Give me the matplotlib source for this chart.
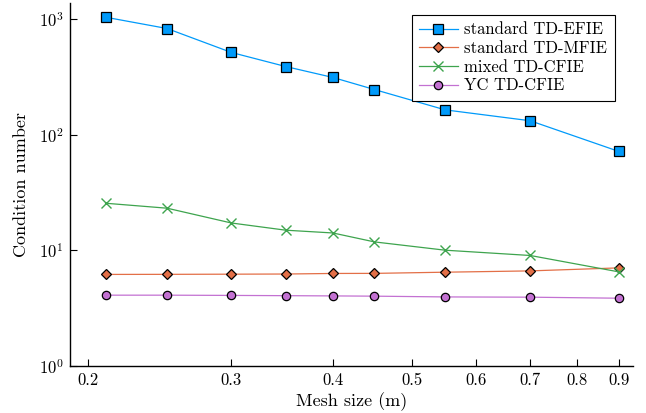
import matplotlib
matplotlib.use("Agg")
import matplotlib.pyplot as plt
from matplotlib.ticker import FixedLocator, NullLocator, FixedFormatter

mesh_size = [0.21, 0.25, 0.3, 0.35, 0.4, 0.45, 0.55, 0.7, 0.9]
efie      = [1040, 830, 515, 389, 313, 246, 164, 132, 71.6]
mfie      = [6.17, 6.18, 6.2, 6.22, 6.29, 6.3, 6.45, 6.62, 7.03]
mixed     = [25.5, 23.1, 17.2, 14.9, 14.1, 11.8, 10.0, 9.0, 6.49]
yc        = [4.08, 4.08, 4.06, 4.04, 4.02, 4.0, 3.94, 3.92, 3.84]

labels  = ["standard TD-EFIE", "standard TD-MFIE", "mixed TD-CFIE", "YC TD-CFIE"]
xticks  = [0.2, 0.3, 0.4, 0.5, 0.6, 0.7, 0.8, 0.9]
yticks  = [1, 10, 100, 1000]

plt.rcParams["font.family"] = "cmr10"
plt.rcParams["mathtext.fontset"] = "cm"
plt.rcParams["axes.formatter.use_mathtext"] = True

fig = plt.figure(figsize=(6.46, 4.13), dpi=100)
ax = fig.add_axes([0.1088, 0.1145, 0.8712, 0.8782])

styles = [
    dict(color="#009AFA", marker="s", ms=6.5),
    dict(color="#E36F47", marker="D", ms=5),
    dict(color="#3EA44E", marker="x", ms=7, mew=1.0),
    dict(color="#C371D2", marker="o", ms=6),
]
for series, label, st in zip([efie, mfie, mixed, yc], labels, styles):
    kw = dict(lw=0.9, label=label, color=st["color"], marker=st["marker"], ms=st["ms"])
    if st["marker"] == "x":
        kw.update(mec=st["color"], mew=st["mew"])
    else:
        kw.update(mfc=st["color"], mec="black", mew=0.9)
    ax.plot(mesh_size, series, **kw)

ax.set_xscale("log")
ax.set_yscale("log")
ax.set_xlim(0.19, 0.937)
ax.set_ylim(1, 1380)

ax.xaxis.set_major_locator(FixedLocator(xticks))
ax.xaxis.set_major_formatter(FixedFormatter([f"{t:.1f}" for t in xticks]))
ax.xaxis.set_minor_locator(NullLocator())
ax.yaxis.set_major_locator(FixedLocator(yticks))
ax.yaxis.set_major_formatter(FixedFormatter([r"$10^{%d}$" % i for i in range(4)]))
ax.yaxis.set_minor_locator(NullLocator())
ax.tick_params(direction="in", length=5, width=0.8, labelsize=12, pad=5)

for spine in ("top", "right"):
    ax.spines[spine].set_visible(False)
for spine in ("left", "bottom"):
    ax.spines[spine].set_linewidth(1.0)

ax.set_xlabel("Mesh size (m)", fontsize=13, labelpad=3)
ax.set_ylabel("Condition number", fontsize=13, labelpad=7)

leg = ax.legend(loc="upper right", bbox_to_anchor=(0.9675, 0.968), fontsize=12,
                fancybox=False, framealpha=1, edgecolor="black",
                handlelength=2.3, borderpad=0.45, labelspacing=0.2,
                handletextpad=0.4, borderaxespad=0)
leg.get_frame().set_linewidth(0.8)

plt.savefig("out.png", dpi=100)
